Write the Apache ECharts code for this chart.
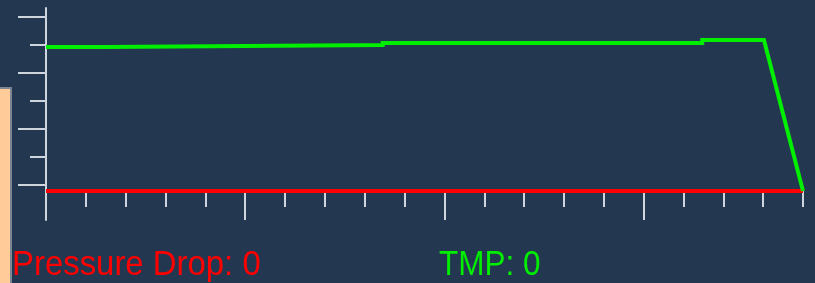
<!DOCTYPE html>
<html>
<head>
<meta charset="utf-8">
<script src="https://cdn.jsdelivr.net/npm/echarts@6/dist/echarts.min.js"></script>
<style>
  html, body { margin: 0; padding: 0; background: #233750; }
  #chart { width: 815px; height: 283px; }
</style>
</head>
<body>
<div id="chart"></div>
<script>
// time axis in tick units (one tick = one step)
const tmpX = [0, 1.48, 1.48, 8.45, 8.45, 16.47, 16.47, 18.02, 19];
const tmpY = [5.143, 5.143, 5.214, 5.214, 5.286, 5.286, 5.393, 5.393, 0];
const dropX = [0, 19];
const dropY = [0, 0];

const yMinorTicks = [1.214, 3.214, 5.214];
const yMajorTicks = [0.214, 2.214, 4.214, 6.214];
const xMajorTicks = [0, 5, 10, 15];

const pressureDrop = 0;
const tmp = 0;

const chart = echarts.init(document.getElementById("chart"));

const tickColor = "#cfd5dc";
const yRange = { min: -1.0357, max: 6.5357 };
const xRange = { min: 0, max: 19 };

const hidden = { show: false };

chart.setOption({
  backgroundColor: "#233750",
  animation: false,
  grid: { left: 46, right: 12, top: 8, bottom: 63 },
  xAxis: [
    {
      type: "value",
      position: "bottom",
      ...xRange,
      interval: 1,
      axisLine: { show: false, onZero: true },
      axisTick: { show: true, length: 16, lineStyle: { color: tickColor, width: 2 } },
      axisLabel: hidden,
      splitLine: hidden,
    },
    {
      type: "value",
      position: "bottom",
      ...xRange,
      axisLine: { show: false, onZero: true },
      axisTick: {
        show: true,
        length: 29,
        customValues: xMajorTicks,
        lineStyle: { color: tickColor, width: 2 },
      },
      axisLabel: hidden,
      splitLine: hidden,
    },
  ],
  yAxis: [
    {
      type: "value",
      position: "left",
      ...yRange,
      axisLine: { show: true, onZero: false, lineStyle: { color: tickColor, width: 2 } },
      axisTick: {
        show: true,
        length: 16,
        customValues: yMinorTicks,
        lineStyle: { color: tickColor, width: 2 },
      },
      axisLabel: hidden,
      splitLine: hidden,
    },
    {
      type: "value",
      position: "left",
      ...yRange,
      axisLine: { show: false, onZero: false },
      axisTick: {
        show: true,
        length: 28,
        customValues: yMajorTicks,
        lineStyle: { color: tickColor, width: 2 },
      },
      axisLabel: hidden,
      splitLine: hidden,
    },
  ],
  series: [
    {
      name: "Pressure Drop",
      type: "line",
      data: dropX.map((x, i) => [x, dropY[i]]),
      symbol: "none",
      lineStyle: { color: "#ff0000", width: 4 },
      z: 3,
    },
    {
      name: "TMP",
      type: "line",
      data: tmpX.map((x, i) => [x, tmpY[i]]),
      symbol: "none",
      lineStyle: { color: "#00ee00", width: 4, join: "miter" },
      z: 4,
    },
  ],
  graphic: [
    {
      type: "rect",
      shape: { x: -2, y: 88, width: 13, height: 200 },
      style: { fill: "#ffcc99", stroke: "#7d8794", lineWidth: 2 },
    },
    {
      type: "text",
      x: 12,
      y: 265,
      scaleX: 0.94,
      style: {
        text: "Pressure Drop: " + pressureDrop,
        font: "35px 'Liberation Sans', Arial, sans-serif",
        fill: "#ff0000",
        textVerticalAlign: "middle",
      },
    },
    {
      type: "text",
      x: 439,
      y: 265,
      scaleX: 0.9,
      style: {
        text: "TMP: " + tmp,
        font: "35px 'Liberation Sans', Arial, sans-serif",
        fill: "#00ee00",
        textVerticalAlign: "middle",
      },
    },
  ],
});
</script>
</body>
</html>
